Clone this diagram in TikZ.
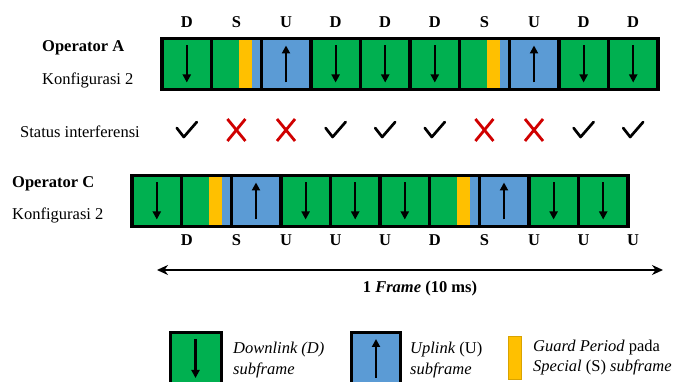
\documentclass[tikz,border=0pt]{standalone}
\usepackage{fontspec}
\setmainfont{Liberation Serif}
\usetikzlibrary{arrows.meta}
\definecolor{dlg}{HTML}{00B050}
\definecolor{ulb}{HTML}{5B9BD5}
\definecolor{gpy}{HTML}{FFC000}
\definecolor{xred}{HTML}{D00000}
\begin{document}
\begin{tikzpicture}[x=1pt,y=-1pt,
  font=\fontsize{16.5}{18}\selectfont,
  cellbox/.style={rectangle, inner sep=0pt, outer sep=0pt, minimum width=49.6pt, minimum height=51pt},
  cellborder/.style={line width=3.4pt},
  linkarrow/.style={line width=2.2pt, -{Triangle[width=8pt,length=8pt]}},
  lbl/.style={inner sep=0pt, font=\fontsize{16.5}{18}\selectfont\bfseries},
  txt/.style={inner sep=0pt, anchor=west},
  chk/.style={line width=2.7pt, line cap=round, line join=round},
  xmk/.style={line width=2.8pt, xred},
  framearrow/.style={line width=2pt, {Stealth[length=11pt,width=10pt]}-{Stealth[length=11pt,width=10pt]}}
]
\useasboundingbox (0,0) rectangle (673,382);

% ---------- Operator A ----------
\foreach \c [count=\i from 0] in {dlg,dlg,ulb,dlg,dlg,dlg,dlg,ulb,dlg,dlg}
  \node[cellbox, fill=\c] (a\i) at ({162+49.6*(\i+0.5)}, 64) {};
\foreach \i in {1,6} {
  \fill[gpy] ([xshift=27pt]a\i.south west) rectangle ([xshift=40pt]a\i.north west);
  \fill[ulb] ([xshift=40pt]a\i.south west) rectangle (a\i.north east);
}
\foreach \i in {0,3,4,5,8,9}
  \draw[linkarrow] ([yshift=-7pt]a\i.north) -- ([yshift=7pt]a\i.south);
\foreach \i in {2,7}
  \draw[linkarrow] ([yshift=7pt]a\i.south) -- ([yshift=-7pt]a\i.north);
\foreach \i in {0,...,9}
  \draw[cellborder] (a\i.south west) rectangle (a\i.north east);

\coordinate (toprow) at (0,22);
\foreach \t [count=\i from 0] in {D,S,U,D,D,D,S,U,D,D}
  \node[lbl] (ta\i) at (a\i |- toprow) {\t};

\node[txt, font=\fontsize{16.5}{18}\selectfont\bfseries] (opA) at (42,48) {Operator A};
\node[txt] (kfA) at (42,80) {Konfigurasi 2};

% ---------- Status ----------
\node[txt] (stat) at (20,132) {Status interferensi};
\coordinate (strow) at (0,130);
\foreach \i in {0,...,9}
  \coordinate (st\i) at (a\i |- strow);
\foreach \i in {0,3,4,5,8,9}
  \draw[chk] (st\i) ++(-10,-2) -- ++(7,9) -- ++(13,-15);
\foreach \i in {1,2,6,7} {
  \draw[xmk] (st\i) ++(-9,-11) -- ++(18,22);
  \draw[xmk] (st\i) ++(-9,11) -- ++(18,-22);
}

% ---------- Operator C ----------
\foreach \c [count=\i from 0] in {dlg,dlg,ulb,dlg,dlg,dlg,dlg,ulb,dlg,dlg}
  \node[cellbox, fill=\c] (c\i) at ({132+49.6*(\i+0.5)}, 201) {};
\foreach \i in {1,6} {
  \fill[gpy] ([xshift=27pt]c\i.south west) rectangle ([xshift=40pt]c\i.north west);
  \fill[ulb] ([xshift=40pt]c\i.south west) rectangle (c\i.north east);
}
\foreach \i in {0,3,4,5,8,9}
  \draw[linkarrow] ([yshift=-7pt]c\i.north) -- ([yshift=7pt]c\i.south);
\foreach \i in {2,7}
  \draw[linkarrow] ([yshift=7pt]c\i.south) -- ([yshift=-7pt]c\i.north);
\foreach \i in {0,...,9}
  \draw[cellborder] (c\i.south west) rectangle (c\i.north east);

\coordinate (botrow) at (0,240);
\foreach \t [count=\i from 0] in {D,S,U,U,U,D,S,U,U,U}
  \node[lbl] (tc\i) at (a\i |- botrow) {\t};

\node[txt, font=\fontsize{16.5}{18}\selectfont\bfseries] (opC) at (12,184) {Operator C};
\node[txt] (kfC) at (12,215) {Konfigurasi 2};

% ---------- Frame ----------
\coordinate (frl) at (157,270);
\coordinate (frr) at (663,270);
\draw[framearrow] (frl) -- (frr);
\node[inner sep=0pt, font=\fontsize{16.5}{18}\selectfont\bfseries] (frlbl) at (420,289) {1 \textit{Frame} (10 ms)};

% ---------- Legend ----------
\node[cellbox, fill=dlg, minimum width=51pt] (lgD) at (195.5,358.5) {};
\draw[linkarrow] ([yshift=-6pt]lgD.north) -- ([yshift=6pt]lgD.south);
\draw[cellborder, line width=3pt] (lgD.south west) rectangle (lgD.north east);
\node[txt] (lgDt1) at (233,350) {\textit{Downlink (D)}};
\node[txt] (lgDt2) at (233,370) {\textit{subframe}};

\node[cellbox, fill=ulb, minimum width=49pt] (lgU) at (376,358.5) {};
\draw[linkarrow] ([yshift=6pt]lgU.south) -- ([yshift=-6pt]lgU.north);
\draw[cellborder, line width=3pt] (lgU.south west) rectangle (lgU.north east);
\node[txt] (lgUt1) at (410,350) {\textit{Uplink} (U)};
\node[txt] (lgUt2) at (410,370) {\textit{subframe}};

\node[rectangle, inner sep=0pt, fill=gpy, draw=gpy!85!black, line width=0.4pt,
      minimum width=13pt, minimum height=43pt] (lgG) at (515,357.5) {};
\node[txt] (lgGt1) at (533,348) {\textit{Guard Period} pada};
\node[txt] (lgGt2) at (533,367) {\textit{Special} (S) \textit{subframe}};
\end{tikzpicture}
\end{document}
